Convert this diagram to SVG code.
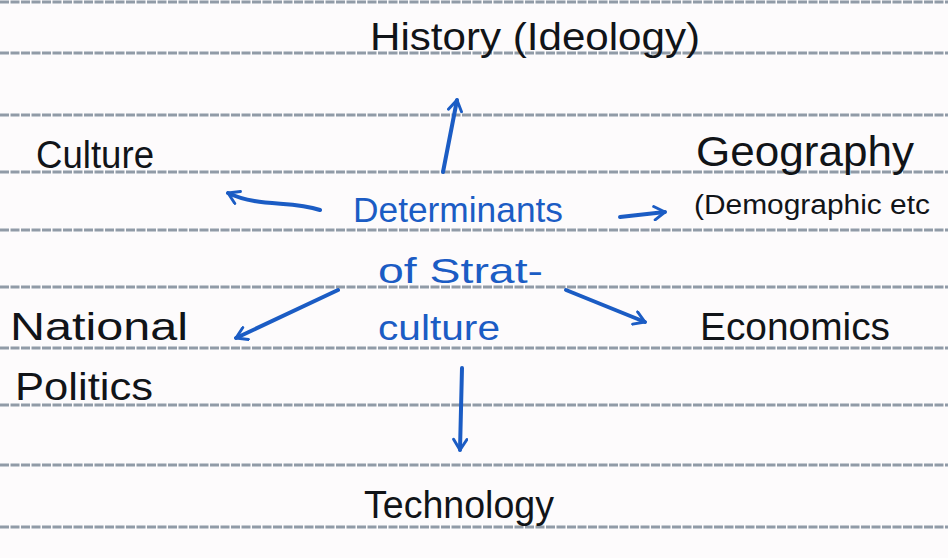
<svg xmlns="http://www.w3.org/2000/svg" width="948" height="558" viewBox="0 0 948 558">
  <defs>
    <style>
      .rule { stroke: #7f8b99; stroke-width: 3; stroke-dasharray: 9 1.5; opacity: 0.85; }
      .ink { font-family: "Liberation Sans", "DejaVu Sans", sans-serif; fill: #111418; font-size: 38px; }
      .blue { font-family: "Liberation Sans", "DejaVu Sans", sans-serif; fill: #1b5cc4; font-size: 35px; }
      .small { font-size: 27px; }
      .large { font-size: 42px; }
      .arrow { fill: none; stroke: #1b5cc4; stroke-width: 4; stroke-linecap: round; stroke-linejoin: round; marker-end: url(#head); }
    </style>
    <!-- open chevron arrowhead -->
    <marker id="head" viewBox="0 0 12 12" refX="10" refY="6" markerWidth="4" markerHeight="4" orient="auto" markerUnits="strokeWidth">
      <path d="M2,1 L10,6 L2,11" fill="none" stroke="#1b5cc4" stroke-width="2.2" stroke-linecap="round" stroke-linejoin="round"/>
    </marker>
  </defs>

  <rect width="948" height="558" fill="#fdfbfc"/>

  <!-- ruled notebook lines -->
  <g id="rules">
    <line class="rule" x1="0" y1="2" x2="948" y2="2"/>
    <line class="rule" x1="0" y1="53" x2="948" y2="53"/>
    <line class="rule" x1="0" y1="115" x2="948" y2="115"/>
    <line class="rule" x1="0" y1="172" x2="948" y2="172"/>
    <line class="rule" x1="0" y1="230" x2="948" y2="230"/>
    <line class="rule" x1="0" y1="287" x2="948" y2="287"/>
    <line class="rule" x1="0" y1="348" x2="948" y2="348"/>
    <line class="rule" x1="0" y1="405" x2="948" y2="405"/>
    <line class="rule" x1="0" y1="465" x2="948" y2="465"/>
    <line class="rule" x1="0" y1="527" x2="948" y2="527"/>
  </g>

  <g id="center">
    <text class="blue" x="353" y="222" textLength="210" lengthAdjust="spacingAndGlyphs">Determinants</text>
    <text class="blue" x="378" y="283" textLength="165" lengthAdjust="spacingAndGlyphs">of Strat-</text>
    <text class="blue" x="378" y="340" textLength="122" lengthAdjust="spacingAndGlyphs">culture</text>
  </g>

  <g id="history">
    <text class="ink" x="370" y="50" textLength="330" lengthAdjust="spacingAndGlyphs">History (Ideology)</text>
  </g>
  <g id="culture">
    <text class="ink" x="36" y="168" textLength="118" lengthAdjust="spacingAndGlyphs">Culture</text>
  </g>
  <g id="geography">
    <text class="ink large" x="696" y="166" textLength="218" lengthAdjust="spacingAndGlyphs">Geography</text>
    <text class="ink small" x="694" y="214" textLength="236" lengthAdjust="spacingAndGlyphs">(Demographic etc</text>
  </g>
  <g id="national-politics">
    <text class="ink" x="10" y="340" textLength="178" lengthAdjust="spacingAndGlyphs">National</text>
    <text class="ink" x="15" y="400" textLength="138" lengthAdjust="spacingAndGlyphs">Politics</text>
  </g>
  <g id="economics">
    <text class="ink" x="700" y="340" textLength="190" lengthAdjust="spacingAndGlyphs">Economics</text>
  </g>
  <g id="technology">
    <text class="ink" x="364" y="518" textLength="190" lengthAdjust="spacingAndGlyphs">Technology</text>
  </g>

  <g id="connectors">
    <path class="arrow" d="M443,172 L457,100"/>
    <path class="arrow" d="M320,210 C290,200 260,208 228,193"/>
    <path class="arrow" d="M620,217 L665,212"/>
    <path class="arrow" d="M338,290 L236,338"/>
    <path class="arrow" d="M566,290 L645,322"/>
    <path class="arrow" d="M462,368 L460,450"/>
  </g>
</svg>
